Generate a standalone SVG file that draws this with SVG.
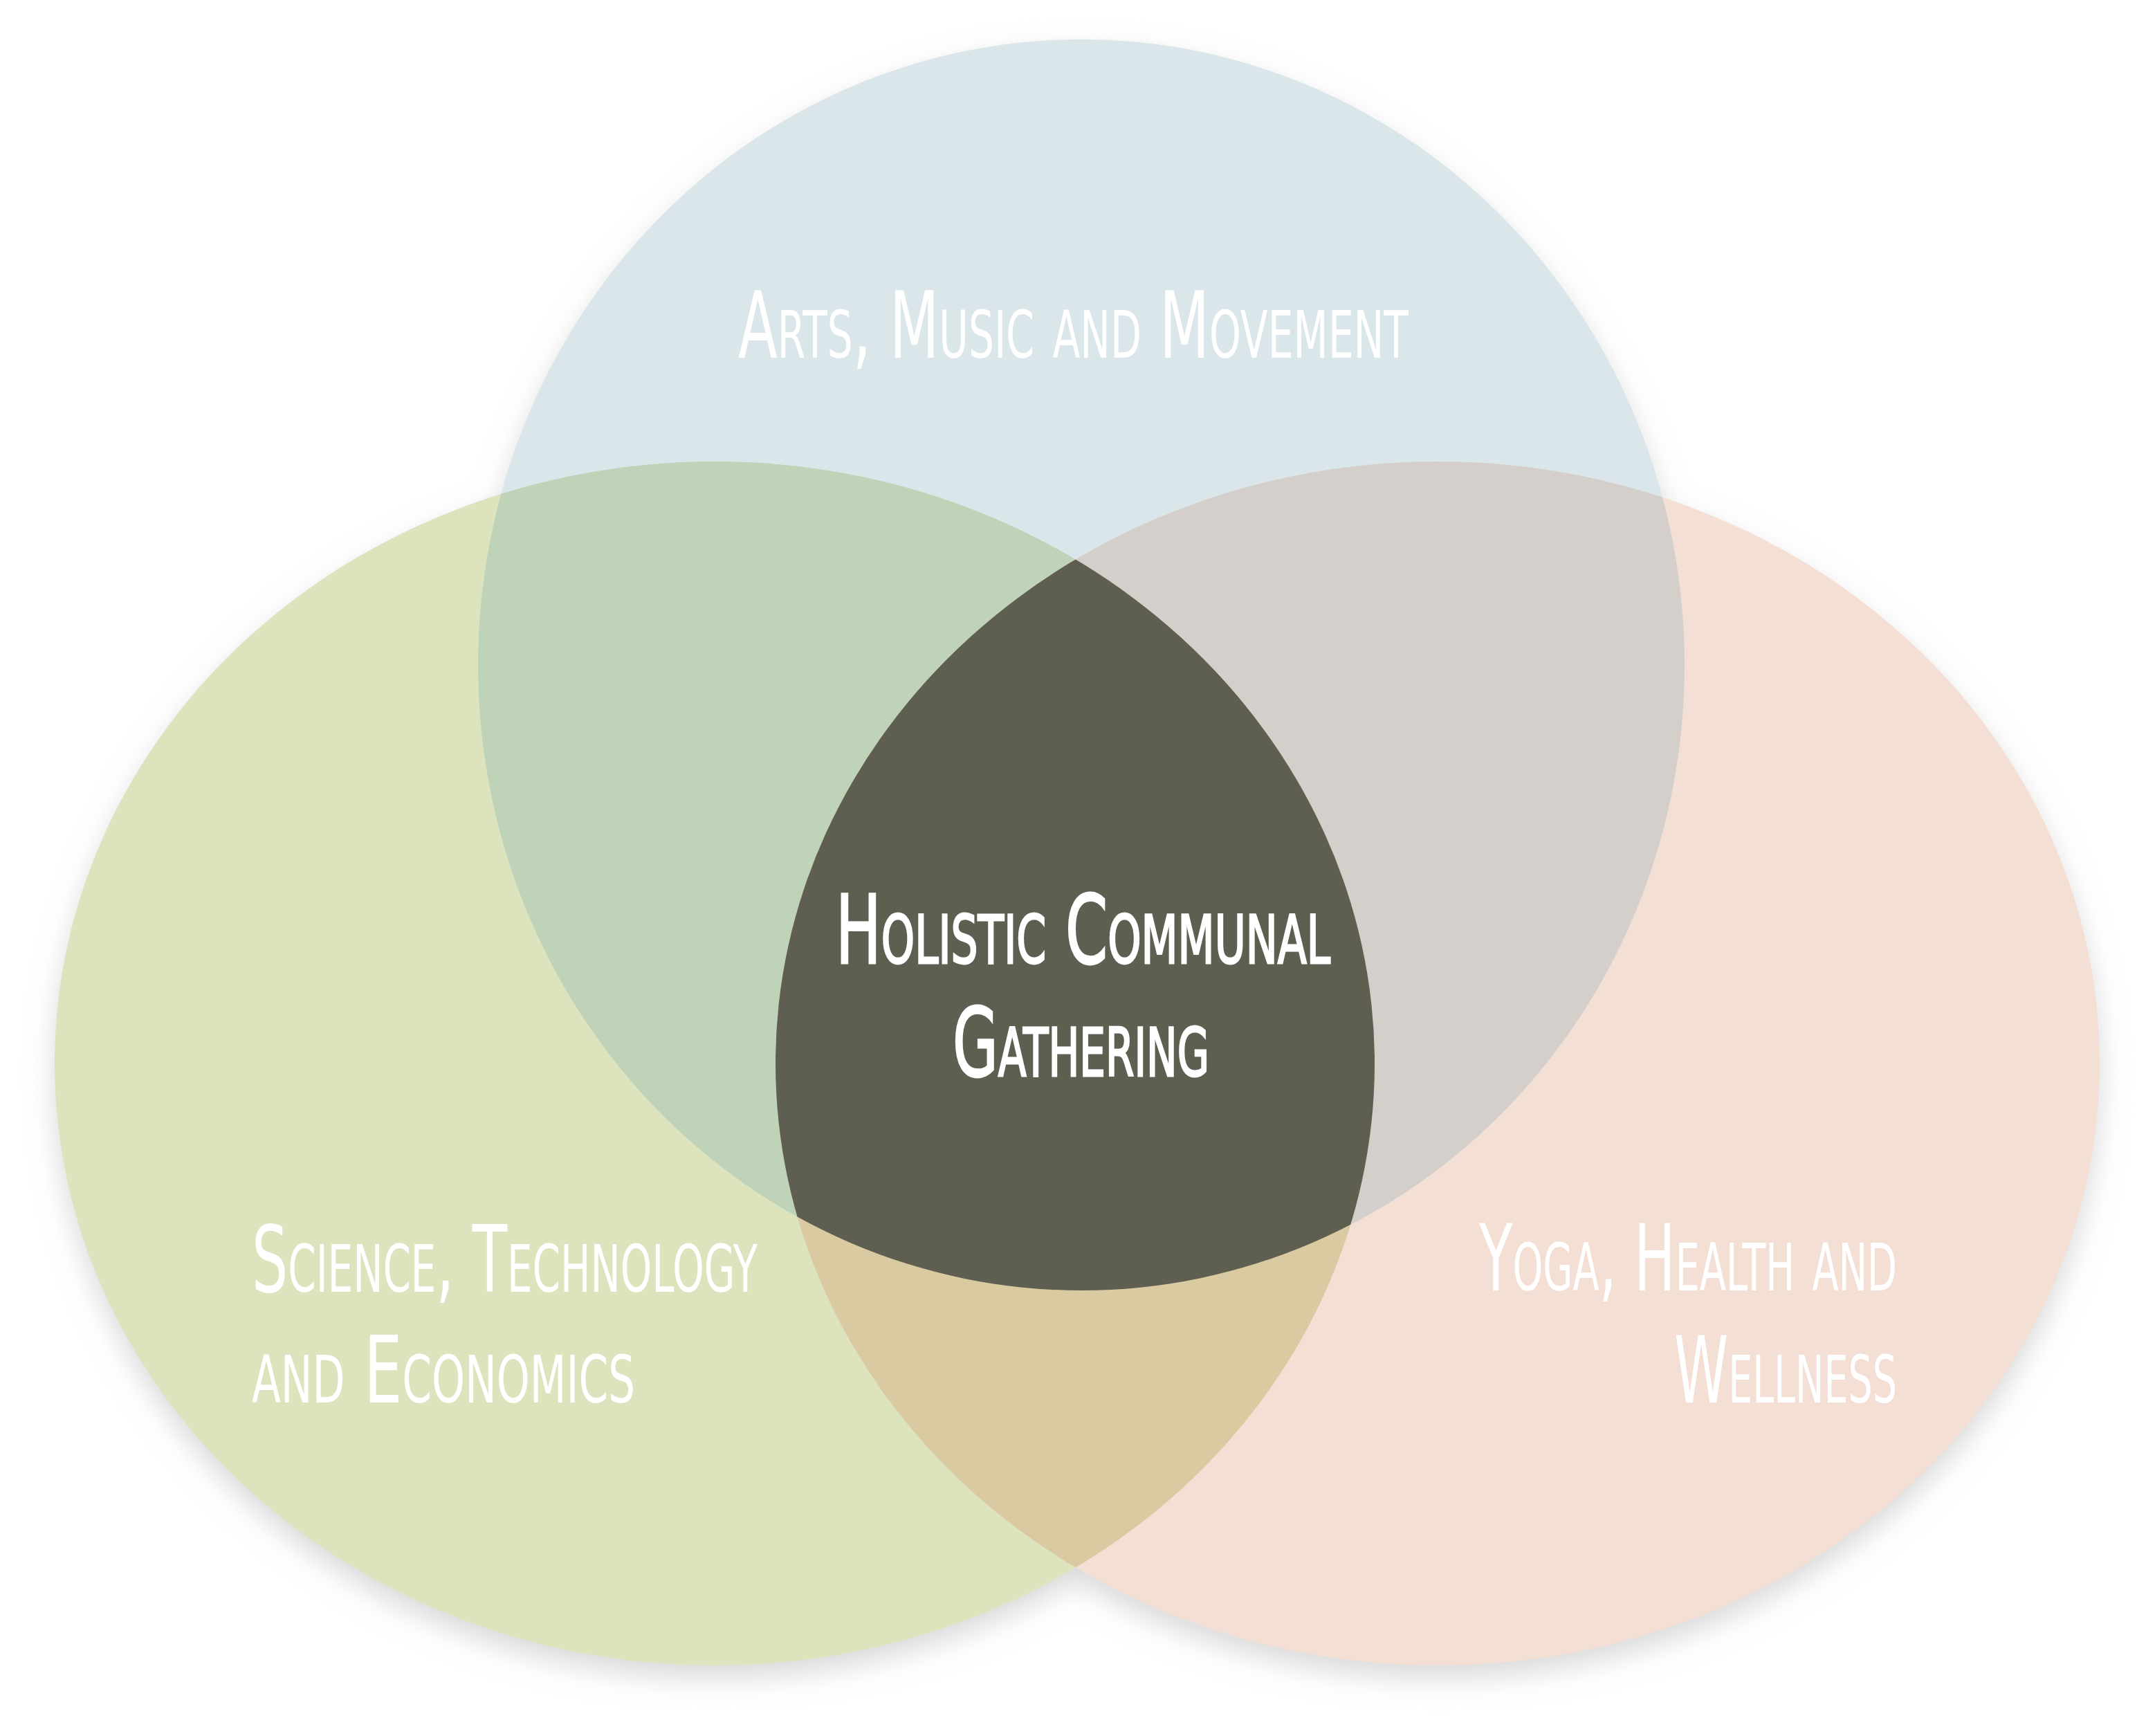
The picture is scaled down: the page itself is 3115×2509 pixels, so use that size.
<svg xmlns="http://www.w3.org/2000/svg" width="3115" height="2509" viewBox="0 0 3115 2509">
  <style>
    .lbl { fill: #ffffff; font-family: "DejaVu Sans", "Open Sans", sans-serif; font-weight: 400; font-variant: small-caps; font-size: 134px; }
    .ctr { font-size: 138px; stroke: #ffffff; stroke-width: 3px; }
    .end { text-anchor: end; }
  </style>
  <defs>
    <filter id="soft" x="-10%" y="-10%" width="120%" height="120%">
      <feGaussianBlur stdDeviation="20"/>
    </filter>
    <clipPath id="clipL"><ellipse cx="1033" cy="1537" rx="954" ry="870"/></clipPath>
    <clipPath id="clipR"><ellipse cx="2078" cy="1537" rx="957" ry="870"/></clipPath>
  </defs>
  <rect width="3115" height="2509" fill="#ffffff"/>

  <g id="shadow" filter="url(#soft)" fill="#d9d9d9" transform="translate(0,18)">
    <ellipse cx="1033" cy="1537" rx="954" ry="870"/>
    <ellipse cx="2078" cy="1537" rx="957" ry="870"/>
    <ellipse cx="1563" cy="961" rx="872" ry="904"/>
  </g>

  <g id="node-science">
    <ellipse cx="1033" cy="1537" rx="954" ry="870" fill="#DCE3BD"/>
  </g>
  <g id="node-yoga">
    <ellipse cx="2078" cy="1537" rx="957" ry="870" fill="#F4DFD5"/>
  </g>
  <g id="node-arts">
    <ellipse cx="1563" cy="961" rx="872" ry="904" fill="#DAE6E9"/>
  </g>

  <g id="overlaps">
    <g clip-path="url(#clipL)"><ellipse cx="1563" cy="961" rx="872" ry="904" fill="#BFD3B8"/></g>
    <g clip-path="url(#clipR)"><ellipse cx="1563" cy="961" rx="872" ry="904" fill="#D4CFCA"/></g>
    <g clip-path="url(#clipL)"><ellipse cx="2078" cy="1537" rx="957" ry="870" fill="#D9CAA2"/></g>
    <g clip-path="url(#clipR)"><g clip-path="url(#clipL)"><ellipse cx="1563" cy="961" rx="872" ry="904" fill="#5E5F51"/></g></g>
  </g>

  <g id="labels">
    <g id="label-arts">
      <text class="lbl" x="1067" y="517" textLength="969" lengthAdjust="spacingAndGlyphs">Arts, Music and Movement</text>
    </g>
    <g id="label-science">
      <text class="lbl" x="364" y="1867" textLength="731" lengthAdjust="spacingAndGlyphs">Science, Technology</text>
      <text class="lbl" x="364" y="2027" textLength="554" lengthAdjust="spacingAndGlyphs">and Economics</text>
    </g>
    <g id="label-yoga">
      <text class="lbl end" x="2742" y="1865" textLength="604" lengthAdjust="spacingAndGlyphs">Yoga, Health and</text>
      <text class="lbl end" x="2742" y="2027" textLength="322" lengthAdjust="spacingAndGlyphs">Wellness</text>
    </g>
    <g id="node-center">
      <text class="lbl ctr" x="1208" y="1392" textLength="715" lengthAdjust="spacingAndGlyphs">Holistic Communal</text>
      <text class="lbl ctr" x="1377" y="1555" textLength="371" lengthAdjust="spacingAndGlyphs">Gathering</text>
    </g>
  </g>
</svg>
